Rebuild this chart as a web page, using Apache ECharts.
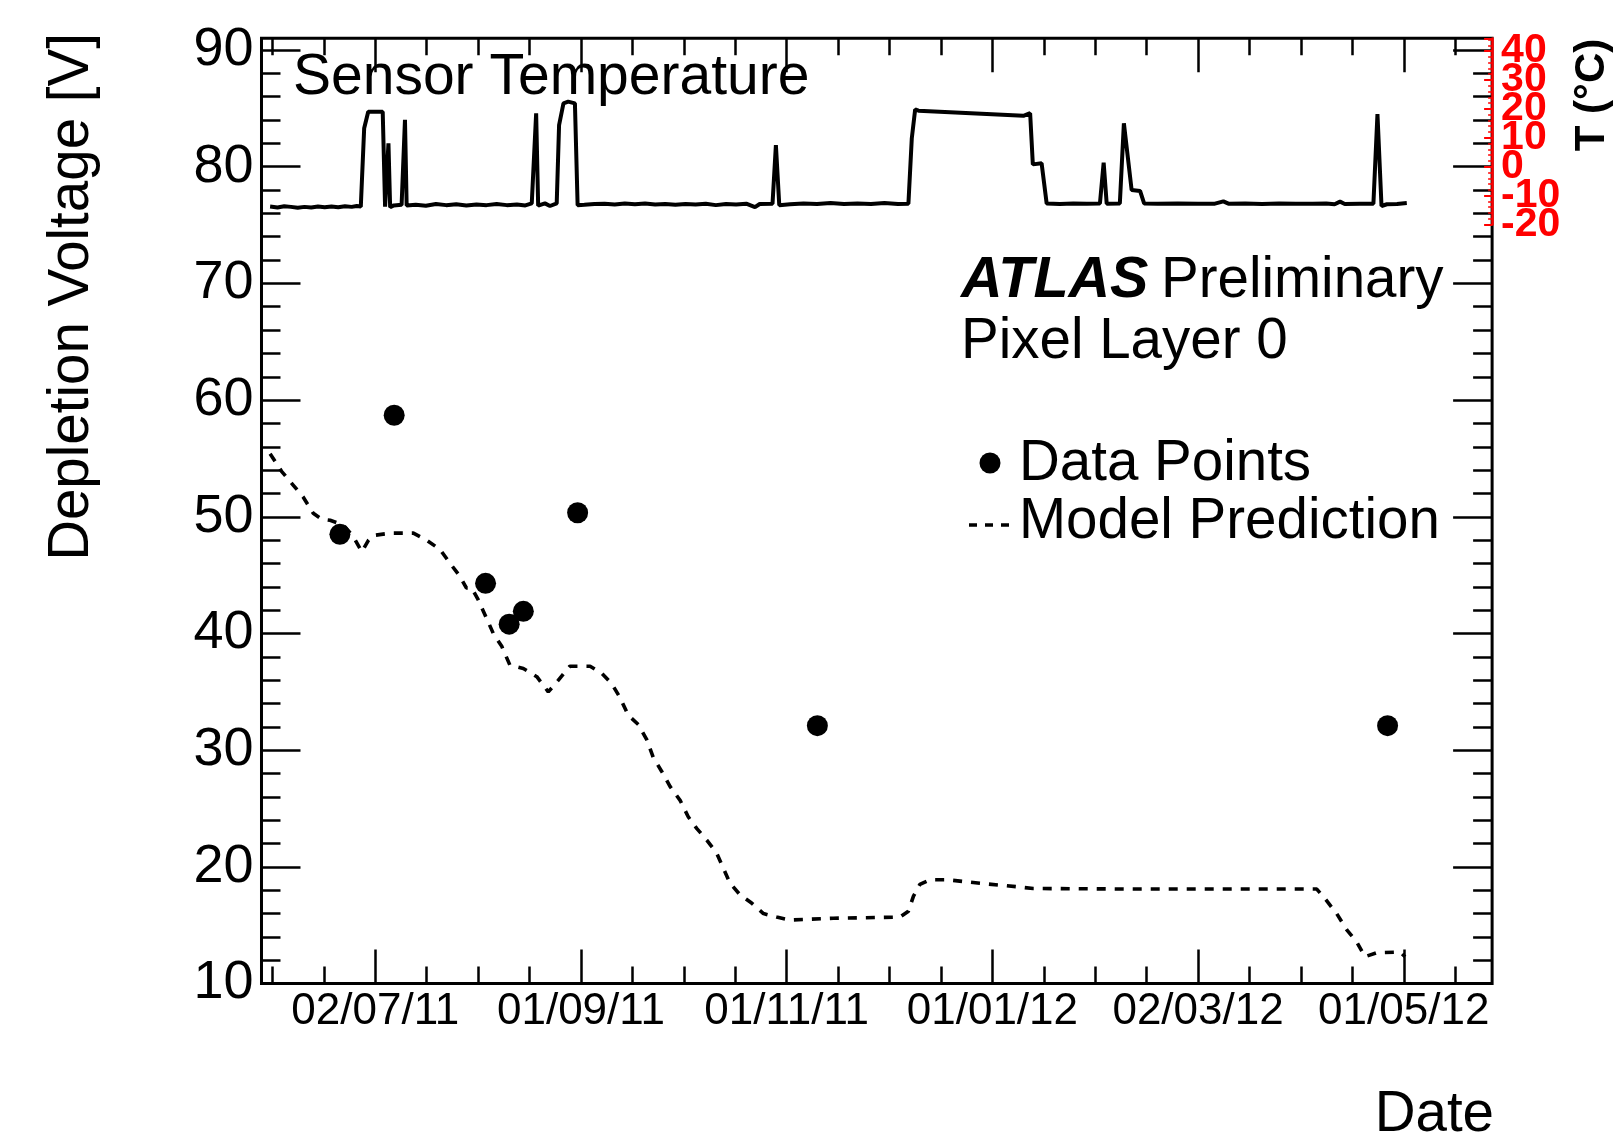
<!DOCTYPE html>
<html><head><meta charset="utf-8">
<script src="https://cdn.jsdelivr.net/npm/echarts@6/dist/echarts.min.js"></script>
<style>html,body{margin:0;padding:0;background:#fff}#c{width:1620px;height:1142px}</style>
</head><body><div id="c"></div>
<script>
// ---------------- DATA (x = days relative to the 02/07/11 date tick) ----------------
const dateTickLabels = ['02/07/11', '01/09/11', '01/11/11', '01/01/12', '02/03/12', '01/05/12'];
const dateTickStepDays = 61;

const pointDays  = [-10.5, 5.6, 32.7, 39.7, 43.9, 60.0, 131.1, 300.2];
const pointVolts = [48.5, 58.7, 44.3, 40.8, 41.9, 50.35, 32.1, 32.1];

const modelDays = [-31.2, -27.8, -24.3, -21.4, -18.4, -15.9, -13.4, -9.5, -6.5, -4.0, -2.0, -0.6, 4.4, 11.3,
  15.2, 19.2, 22.2, 25.1, 27.0, 28.6, 30.5, 33.0, 35.0, 37.5, 39.9, 43.9, 47.9, 51.3, 54.3, 57.7, 63.7,
  67.1, 70.1, 72.6, 75.0, 78.0, 80.5, 82.4, 84.9, 87.4, 90.4, 92.8, 95.3, 98.3, 101.2, 103.2, 105.2,
  108.2, 111.6, 115.1, 119.0, 123.0, 135.8, 155.6, 158.1, 159.6, 161.5, 164.5, 169.5, 179.3, 190.2,
  195.1, 224.8, 279.2, 281.6, 285.1, 288.1, 291.0, 293.5, 297.0, 303.9, 305.4];
const modelVolts = [55.4, 53.9, 52.7, 51.7, 50.3, 49.8, 49.7, 49.3, 48.3, 47.0, 48.0, 48.4, 48.6, 48.6,
  48.0, 47.2, 46.0, 44.9, 43.9, 43.9, 42.9, 41.3, 40.0, 38.9, 37.3, 37.0, 36.3, 35.0, 36.0, 37.2, 37.2,
  36.6, 35.7, 34.5, 33.0, 32.2, 30.9, 29.4, 28.2, 26.9, 25.7, 24.3, 23.3, 22.3, 21.2, 19.9, 18.6,
  17.6, 16.9, 16.0, 15.7, 15.45, 15.6, 15.7, 16.2, 17.5, 18.5, 18.9, 18.9, 18.6, 18.3,
  18.15, 18.1, 18.1, 17.3, 16.0, 14.6, 13.6, 12.3, 12.65, 12.7, 12.3];

const tempDays = [-31.2, -29, -27, -25, -23, -21, -19, -17, -15, -13, -11, -9, -7, -5.5, -4.3, -3.3, -2.1, 2.2,
  2.9, 3.9, 4.4, 5.5, 7.8, 8.8, 9.3, 12, 15, 18, 21, 24, 27, 30, 33, 36, 39, 42, 44.5, 46.4, 47.7, 48.3,
  50.3, 51.8, 53.8, 54.5, 55.8, 57.2, 59.2, 60.0, 62, 65, 68, 71, 74, 77, 80, 83, 86, 89, 92, 95, 98, 101,
  104, 107, 110, 112.6, 114, 117.8, 118.8, 119.8, 123, 127, 131, 135, 139, 143, 147, 151, 155, 158.1,
  159.1, 160.1, 161.1, 192.2, 194.2, 195.0, 197.6, 199.1, 203, 207, 211, 214.9, 216.0, 216.9, 220.8,
  222.0, 224.3, 226.8, 228.0, 232, 238, 244, 249, 251.5, 253, 258, 263, 268, 273, 278, 282, 284.5,
  286.1, 287.5, 292, 296.0, 297.2, 298.4, 300, 303, 305.9];
const tempValues = [-13.8, -14.1, -13.7, -13.9, -14.2, -13.9, -14.1, -13.8, -14.0, -13.8, -14.0, -13.7, -13.9,
  -13.6, -13.8, 13.3, 19.0, 19.0, -13.8, 8.1, -14.0, -13.4, -13.2, 16.2, -13.4, -13.2, -13.5, -12.9,
  -13.3, -13.0, -13.4, -13.1, -13.3, -12.9, -13.3, -13.1, -13.4, -12.7, 18.5, -13.5, -12.7, -13.6,
  -12.7, 14.4, 21.9, 22.5, 21.9, -13.3, -13.2, -12.9, -12.8, -13.1, -12.7, -13.0, -12.7, -13.1, -12.9,
  -13.2, -12.9, -13.1, -12.8, -13.3, -12.9, -13.1, -12.8, -14.0, -12.9, -12.8, 7.5, -13.3, -13.0,
  -12.7, -12.9, -12.6, -12.9, -12.7, -12.9, -12.6, -12.9, -12.8, 9.8, 19.8, 19.4, 17.6, 18.5, 0.8,
  1.2, -12.7, -12.9, -12.7, -12.8, -12.7, 1.4, -12.8, -12.7, 15.0, -8.1, -8.4, -12.7, -12.8, -12.7,
  -12.8, -12.8, -12.0, -12.8, -12.7, -12.9, -12.7, -12.8, -12.8, -12.7, -13.0, -12.1, -12.9, -12.8,
  -12.8, 18.2, -13.6, -13.0, -12.9, -12.6];

// ---------------- LAYOUT ----------------
const FONT = "'Liberation Sans', Arial, Helvetica, sans-serif";
const X0 = 375.3, PXD = 3.372;          // pixel of day 0, pixels per day
const Y80 = 166.7, PXV = 11.67;         // pixel of 80 V, pixels per volt
const PXT = 2.89;                        // pixels per deg C (0 C aligned with 80 V)
const xMin = -33.75, xMax = 331.2, yMin = 10, yMax = 91, tMin = -20, tMax = 44.4;
const px = d => X0 + PXD * d;
const py = v => Y80 + (80 - v) * PXV;
const pt = t => Y80 - t * PXT;

const L = px(xMin), W = px(xMax) - px(xMin);
const T = py(yMax), H = py(yMin) - py(yMax);

const zip = (a, b) => a.map((v, i) => [v, b[i]]);

const black = '#000', red = '#ff0000';
const FS = 56.5;
const tickStyle = { color: black, width: 2.5 };
const noLine = { show: false, onZero: false };
const hiddenX = (g, min, max) => ({ gridIndex: g, type: 'value', min, max, show: false, axisLine: noLine });
const hiddenY = (g, min, max) => ({ gridIndex: g, type: 'value', min, max, show: false, axisLine: noLine });
const txt = (x, baseline, text, extra) => ({ type: 'text', x, y: baseline - 0.3465 * ((extra && extra.fontSize) || FS),
  style: Object.assign({ text, fontSize: FS, fontFamily: FONT, fill: black, verticalAlign: 'middle' }, extra || {}) });
// temperature labels split over two coincident axes (even / odd multiples of 10) so none get hidden by overlap
const tempLabel = parity => v => {
  const k = Math.round(v / 10);
  if (Math.abs(v / 10 - k) > 1e-6) return '';
  return (Math.abs(k) % 2 === parity) ? String(k * 10) : '';
};
const redLabel = parity => ({ show: true, margin: 9, color: red, fontWeight: 'bold', fontSize: 41, fontFamily: FONT,
  showMinLabel: true, showMaxLabel: true, hideOverlap: false, formatter: tempLabel(parity) });

const chart = echarts.init(document.getElementById('c'), null, { renderer: 'canvas' });
const option = {
  animation: false,
  backgroundColor: '#fff',
  grid: [
    { left: L, top: T, width: W, height: H, show: true, borderColor: black, borderWidth: 3, backgroundColor: 'transparent' },
    { left: L, top: pt(tMax), width: W, height: pt(tMin) - pt(tMax) },
    { left: px(0), top: T, width: px(5 * dateTickStepDays) - px(0), height: H },
    { left: px(-dateTickStepDays / 2), top: T, width: px(5 * dateTickStepDays + dateTickStepDays / 4) - px(-dateTickStepDays / 2), height: H },
    { left: L, top: py(90), width: W, height: py(10) - py(90) }
  ],
  xAxis: [
    hiddenX(0, xMin, xMax),
    hiddenX(1, xMin, xMax),
    { gridIndex: 2, type: 'value', position: 'bottom', min: 0, max: 5 * dateTickStepDays, interval: dateTickStepDays,
      axisLine: noLine, splitLine: { show: false },
      axisTick: { show: true, inside: true, length: 34, lineStyle: tickStyle },
      axisLabel: { show: true, margin: 6, color: black, fontSize: 44, fontFamily: FONT, showMinLabel: true, showMaxLabel: true,
        formatter: v => { const i = Math.round(v / dateTickStepDays); return Math.abs(v - i * dateTickStepDays) < 1e-6 && dateTickLabels[i] ? dateTickLabels[i] : ''; } } },
    { gridIndex: 2, type: 'value', position: 'top', min: 0, max: 5 * dateTickStepDays, interval: dateTickStepDays,
      axisLine: noLine, splitLine: { show: false }, axisLabel: { show: false },
      axisTick: { show: true, inside: true, length: 34, lineStyle: tickStyle } },
    { gridIndex: 3, type: 'value', position: 'bottom', min: -dateTickStepDays / 2, max: 5 * dateTickStepDays + dateTickStepDays / 4, interval: dateTickStepDays / 4,
      axisLine: noLine, splitLine: { show: false }, axisLabel: { show: false },
      axisTick: { show: true, inside: true, length: 17, lineStyle: tickStyle } },
    { gridIndex: 3, type: 'value', position: 'top', min: -dateTickStepDays / 2, max: 5 * dateTickStepDays + dateTickStepDays / 4, interval: dateTickStepDays / 4,
      axisLine: noLine, splitLine: { show: false }, axisLabel: { show: false },
      axisTick: { show: true, inside: true, length: 17, lineStyle: tickStyle } },
    hiddenX(4, xMin, xMax)
  ],
  yAxis: [
    hiddenY(0, yMin, yMax),
    { gridIndex: 1, type: 'value', position: 'right', min: tMin, max: tMax, interval: 10, z: 10,
      axisLine: { show: true, onZero: false, lineStyle: { color: red, width: 2.5 } },
      axisTick: { show: true, inside: true, length: 8, lineStyle: { color: red, width: 2 } },
      minorTick: { show: true, splitNumber: 5, length: 4, lineStyle: { color: red, width: 1.5 } },
      splitLine: { show: false }, minorSplitLine: { show: false },
      axisLabel: redLabel(0) },
    hiddenY(2, 0, 1),
    hiddenY(3, 0, 1),
    { gridIndex: 4, type: 'value', position: 'left', min: 10, max: 90, interval: 10,
      axisLine: noLine, splitLine: { show: false },
      axisTick: { show: true, inside: true, length: 39, lineStyle: tickStyle },
      minorTick: { show: true, splitNumber: 5, length: 19, lineStyle: tickStyle },
      axisLabel: { show: true, margin: 8, color: black, fontSize: 54, fontFamily: FONT, showMinLabel: true, showMaxLabel: true } },
    { gridIndex: 4, type: 'value', position: 'right', min: 10, max: 90, interval: 10,
      axisLine: noLine, splitLine: { show: false }, axisLabel: { show: false },
      axisTick: { show: true, inside: true, length: 39, lineStyle: tickStyle },
      minorTick: { show: true, splitNumber: 5, length: 19, lineStyle: tickStyle } },
    { gridIndex: 1, type: 'value', position: 'right', min: tMin, max: tMax, interval: 10, z: 10,
      axisLine: noLine, axisTick: { show: false }, splitLine: { show: false },
      axisLabel: redLabel(1) }
  ],
  series: [
    { name: 'Sensor Temperature', type: 'line', xAxisIndex: 1, yAxisIndex: 1, data: zip(tempDays, tempValues),
      symbol: 'none', lineStyle: { color: black, width: 4 }, z: 3 },
    { name: 'Model Prediction', type: 'line', xAxisIndex: 0, yAxisIndex: 0, data: zip(modelDays, modelVolts),
      symbol: 'none', lineStyle: { color: black, width: 3.6, type: [9, 9] }, z: 3 },
    { name: 'Data Points', type: 'scatter', xAxisIndex: 0, yAxisIndex: 0, data: zip(pointDays, pointVolts),
      symbol: 'circle', symbolSize: 21, itemStyle: { color: black, opacity: 1 }, z: 4 }
  ],
  graphic: [
    txt(293, 98, 'Sensor Temperature', { fontSize: 57 }),
    txt(961, 300.7, 'ATLAS', { fontSize: 57.5, fontWeight: 'bold', fontStyle: 'italic' }),
    txt(1161, 300.7, 'Preliminary'),
    txt(961, 361.6, 'Pixel Layer 0'),
    { type: 'circle', shape: { cx: 990, cy: 463, r: 10.5 }, style: { fill: black } },
    txt(1019, 483.5, 'Data Points'),
    { type: 'line', shape: { x1: 969, y1: 525, x2: 1010, y2: 525 }, style: { stroke: black, lineWidth: 3.5, lineDash: [8, 8] } },
    txt(1019, 542.4, 'Model Prediction'),
    txt(1494, 1134.5, 'Date', { align: 'right' }),
    { type: 'text', x: 72, y: 297, rotation: Math.PI / 2, style: { text: 'Depletion Voltage [V]', fontSize: FS, fontFamily: FONT, fill: black, align: 'center', verticalAlign: 'middle' } },
    { type: 'text', x: 1592, y: 95, rotation: Math.PI / 2, style: { text: 'T (°C)', fontSize: 42, fontWeight: 'bold', fontFamily: FONT, fill: black, align: 'center', verticalAlign: 'middle' } }
  ]
};
chart.setOption(option);
</script>
</body></html>
